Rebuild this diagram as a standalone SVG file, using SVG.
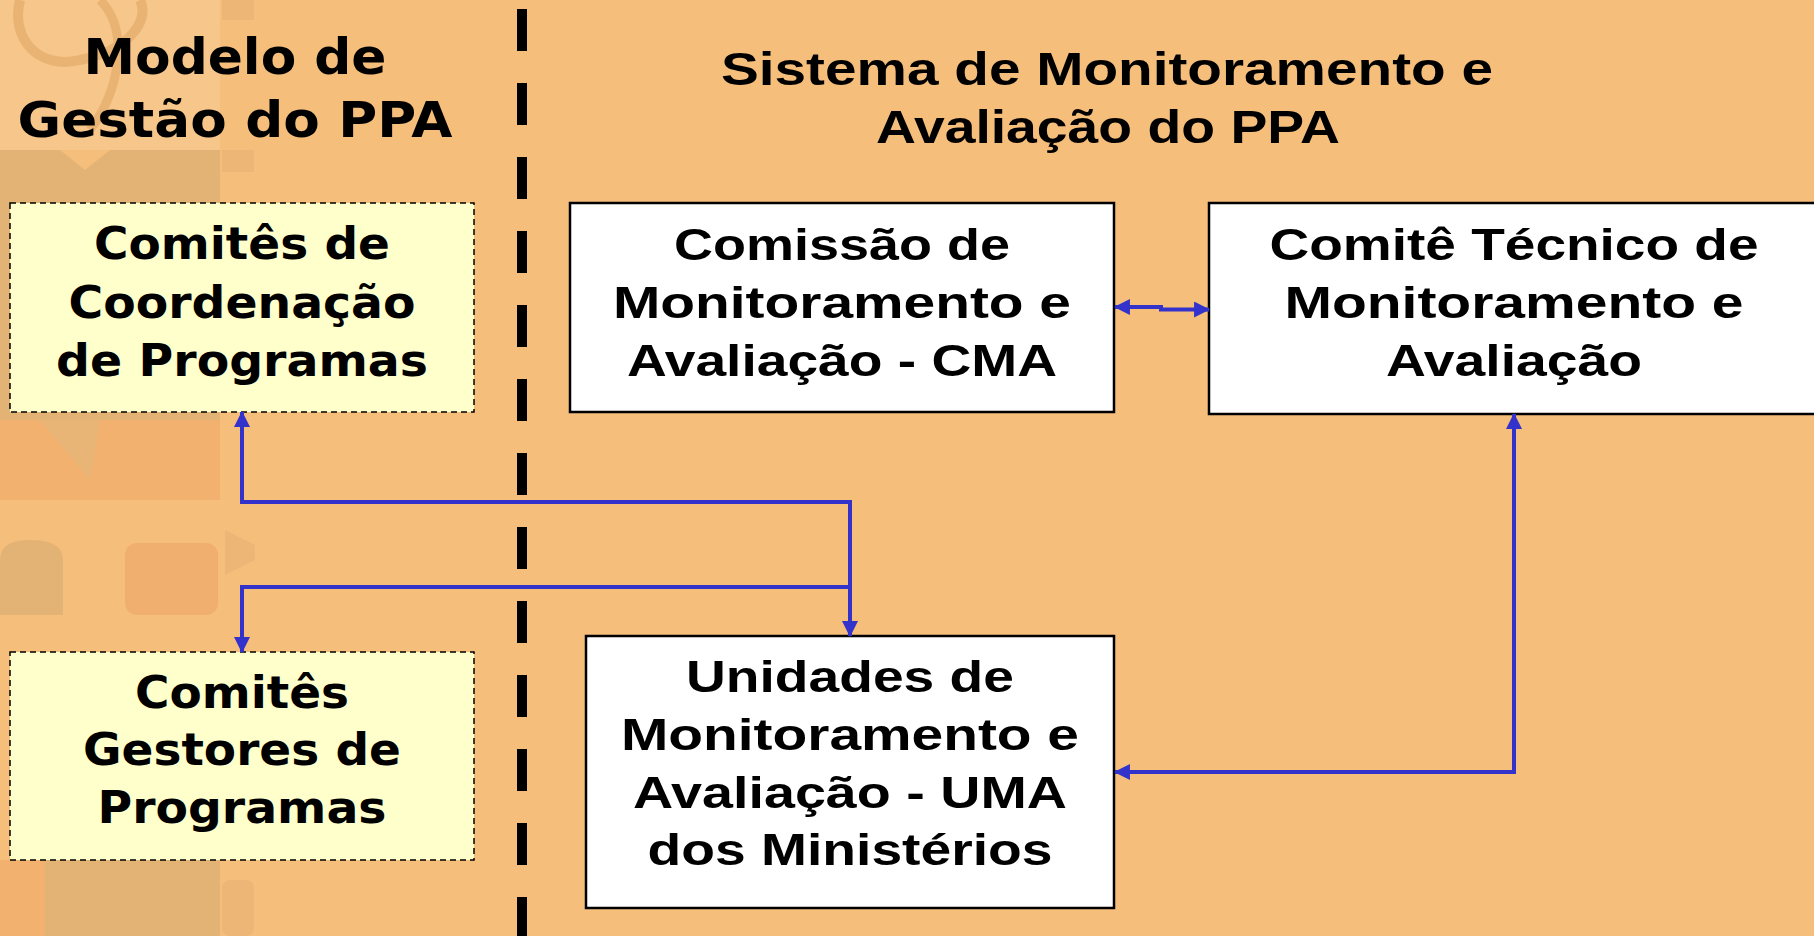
<svg xmlns="http://www.w3.org/2000/svg" width="1814" height="936" viewBox="0 0 1814 936">
<defs>
<style>
.lt{font-family:"DejaVu Sans","Verdana",sans-serif;font-weight:bold;fill:#000;text-anchor:middle}
.rt{font-family:"Liberation Sans","Arial",sans-serif;font-weight:bold;fill:#000;text-anchor:middle}
.ybox{fill:#FFFFCC;stroke:#000;stroke-width:1.5;stroke-dasharray:6 4}
.wbox{fill:#FFFFFF;stroke:#000;stroke-width:2.5}
.conn{fill:none;stroke:#3333CC;stroke-width:4;marker-end:url(#ah)}
.wm{opacity:0.4}
</style>
<marker id="ah" markerUnits="userSpaceOnUse" markerWidth="16" markerHeight="16" viewBox="0 0 15 15" refX="14" refY="7.5" orient="auto-start-reverse">
<path d="M0,0 L15,7.5 L0,15 z" fill="#3333CC"/>
</marker>
</defs>
<rect x="0" y="0" width="1814" height="936" fill="#F6BE7B"/>
<g id="watermark" class="wm">
<rect x="0" y="0" width="220" height="150" fill="#FAD3A2"/>
<path d="M20,0 C10,40 40,70 80,60 C130,50 150,20 140,0" fill="none" stroke="#D8A468" stroke-width="10"/>
<path d="M100,0 C130,30 120,90 90,130" fill="none" stroke="#D8A468" stroke-width="9"/>
<path d="M0,150 L60,150 L85,170 L110,150 L220,150 L220,420 L0,420 z" fill="#C8A46E"/>
<rect x="0" y="420" width="220" height="80" fill="#EE9E5E"/>
<path d="M40,420 L90,480 L100,420 z" fill="#D6A972"/>
<path d="M0,615 L0,560 Q0,540 30,540 Q63,540 63,560 L63,615 z" fill="#C8A46E"/>
<rect x="125" y="543" width="93" height="72" rx="12" fill="#EC9A5E"/>
<rect x="0" y="860" width="45" height="76" fill="#EE9E5E"/>
<rect x="45" y="860" width="175" height="76" fill="#C8A46E"/>
<rect x="222" y="0" width="32" height="20" fill="#E0AC70"/>
<rect x="222" y="150" width="32" height="22" fill="#E0AC70"/>
<path d="M225,530 L255,545 L255,560 L225,575 z" fill="#E0AC70"/>
<rect x="222" y="880" width="32" height="56" rx="8" fill="#E0AC70"/>
</g>
<line id="divider" x1="522" y1="9" x2="522" y2="936" stroke="#000" stroke-width="10" stroke-dasharray="42 32"/>
<g id="title-left">
<text class="lt" x="235" y="74" font-size="50" textLength="303" lengthAdjust="spacingAndGlyphs">Modelo de</text>
<text class="lt" x="235" y="137" font-size="50" textLength="435" lengthAdjust="spacingAndGlyphs">Gestão do PPA</text>
</g>
<g id="title-right">
<text class="rt" x="1107" y="85" font-size="46" textLength="772" lengthAdjust="spacingAndGlyphs">Sistema de Monitoramento e</text>
<text class="rt" x="1108" y="143" font-size="46" textLength="464" lengthAdjust="spacingAndGlyphs">Avaliação do PPA</text>
</g>
<g id="comites-coordenacao">
<rect class="ybox" x="10" y="203" width="464" height="209"/>
<text class="lt" x="242" y="259" font-size="45" textLength="296" lengthAdjust="spacingAndGlyphs">Comitês de</text>
<text class="lt" x="242" y="318" font-size="45" textLength="347" lengthAdjust="spacingAndGlyphs">Coordenação</text>
<text class="lt" x="242" y="376" font-size="45" textLength="372" lengthAdjust="spacingAndGlyphs">de Programas</text>
</g>
<g id="comites-gestores">
<rect class="ybox" x="10" y="652" width="464" height="208"/>
<text class="lt" x="242" y="708" font-size="45" textLength="214" lengthAdjust="spacingAndGlyphs">Comitês</text>
<text class="lt" x="242" y="765" font-size="45" textLength="318" lengthAdjust="spacingAndGlyphs">Gestores de</text>
<text class="lt" x="242" y="823" font-size="45" textLength="289" lengthAdjust="spacingAndGlyphs">Programas</text>
</g>
<g id="cma">
<rect class="wbox" x="570" y="203" width="544" height="209"/>
<text class="rt" x="842" y="260" font-size="45" textLength="336" lengthAdjust="spacingAndGlyphs">Comissão de</text>
<text class="rt" x="842" y="318" font-size="45" textLength="458" lengthAdjust="spacingAndGlyphs">Monitoramento e</text>
<text class="rt" x="842" y="376" font-size="45" textLength="430" lengthAdjust="spacingAndGlyphs">Avaliação - CMA</text>
</g>
<g id="comite-tecnico">
<rect class="wbox" x="1209" y="203" width="620" height="211"/>
<text class="rt" x="1514" y="260" font-size="45" textLength="489" lengthAdjust="spacingAndGlyphs">Comitê Técnico de</text>
<text class="rt" x="1514" y="318" font-size="45" textLength="459" lengthAdjust="spacingAndGlyphs">Monitoramento e</text>
<text class="rt" x="1514" y="376" font-size="45" textLength="256" lengthAdjust="spacingAndGlyphs">Avaliação</text>
</g>
<g id="uma">
<rect class="wbox" x="586" y="636" width="528" height="272"/>
<text class="rt" x="850" y="692" font-size="45" textLength="328" lengthAdjust="spacingAndGlyphs">Unidades de</text>
<text class="rt" x="850" y="750" font-size="45" textLength="458" lengthAdjust="spacingAndGlyphs">Monitoramento e</text>
<text class="rt" x="850" y="808" font-size="45" textLength="434" lengthAdjust="spacingAndGlyphs">Avaliação - UMA</text>
<text class="rt" x="850" y="865" font-size="45" textLength="405" lengthAdjust="spacingAndGlyphs">dos Ministérios</text>
</g>
<g id="connectors">
<path class="conn" style="marker-start:url(#ah)" d="M850,636 V502 H242 V412"/>
<path class="conn" d="M850,587 H242 V652"/>
<path class="conn" style="marker-start:url(#ah)" d="M1115,307 H1161 V309.5 H1209"/>
<path class="conn" style="marker-start:url(#ah)" d="M1514,414 V772 H1115"/>
</g>
</svg>
